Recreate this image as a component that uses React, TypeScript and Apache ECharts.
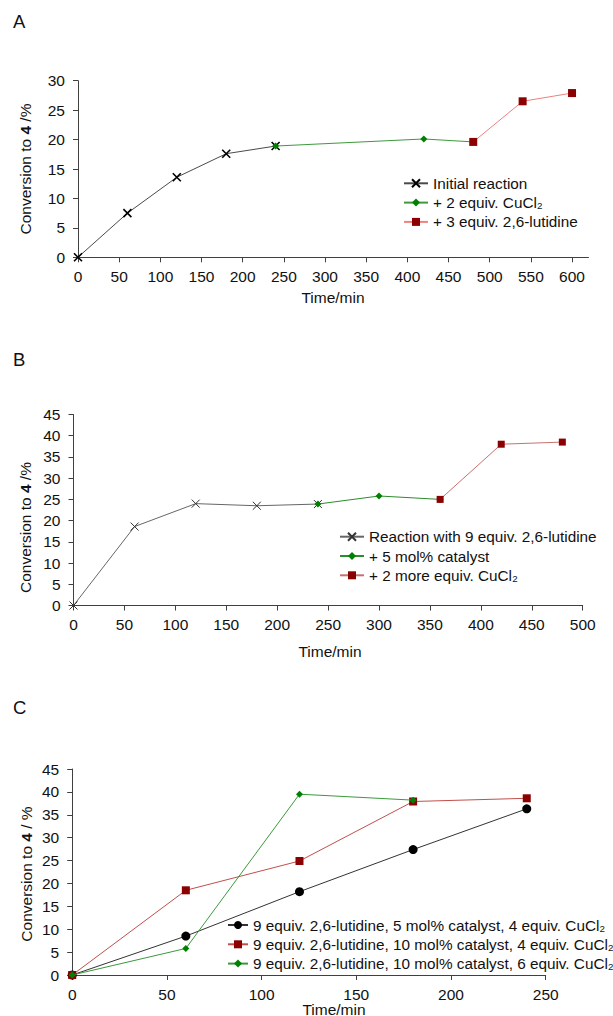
import React, { useEffect, useRef } from "react";
import * as echarts from "echarts";

// ---------- Data ----------
// Panel A
const timesA1 = [0, 60, 120, 180, 240];
const valsA1 = [0, 7.5, 13.6, 17.6, 18.9];
const timesA2 = [240, 420, 480];
const valsA2 = [18.9, 20.1, 19.6];
const timesA3 = [480, 540, 600];
const valsA3 = [19.6, 26.5, 27.9];
const namesA = ["Initial reaction", "+ 2 equiv. CuCl\u2082", "+ 3 equiv. 2,6-lutidine"];
const xTicksA = [0, 50, 100, 150, 200, 250, 300, 350, 400, 450, 500, 550, 600];

// Panel B
const timesB1 = [0, 60, 120, 180, 240];
const valsB1 = [0, 18.6, 24.0, 23.5, 23.9];
const timesB2 = [240, 300, 360];
const valsB2 = [23.9, 25.8, 25.0];
const timesB3 = [360, 420, 480];
const valsB3 = [25.0, 38.0, 38.5];
const namesB = ["Reaction with 9 equiv. 2,6-lutidine", "+ 5 mol% catalyst", "+ 2 more equiv. CuCl\u2082"];

// Panel C
const timesC = [0, 60, 120, 180, 240];
const valsC1 = [0, 8.5, 18.2, 27.4, 36.3];
const valsC2 = [0, 18.5, 24.9, 37.9, 38.6];
const timesC3 = [0, 60, 120, 180];
const valsC3 = [0, 5.8, 39.5, 38.2];
const namesC = [
  "9 equiv. 2,6-lutidine, 5 mol% catalyst, 4 equiv. CuCl\u2082",
  "9 equiv. 2,6-lutidine, 10 mol% catalyst, 4 equiv. CuCl\u2082",
  "9 equiv. 2,6-lutidine, 10 mol% catalyst, 6 equiv. CuCl\u2082",
];

const panelLetters = ["A", "B", "C"];
const yTitleA = "{a|Conversion to }{b|4}{a| /%}";
const yTitleC = "{a|Conversion to }{b|4}{a| / %}";
const xTitle = "Time/min";

// ---------- Style ----------
const FONT = "'Liberation Sans', Arial, 'DejaVu Sans', sans-serif";
const FS = 15.5;
const LFS = 15.3;
const AXIS_COLOR = "#404040";
const TEXT_COLOR = "#111";
const X_PATH = "path://M0,0L10,10M10,0L0,10";

const pairs = (xs: number[], ys: number[]) => xs.map((x, i) => [x, ys[i]]);

function xAxisCfg(gridIndex: number, max: number, extra: any = {}) {
  return {
    type: "value",
    gridIndex,
    min: 0,
    max,
    interval: 50,
    axisLine: { show: true, onZero: false, lineStyle: { color: AXIS_COLOR, width: 1 } },
    axisTick: { show: true, length: 5, inside: false, lineStyle: { color: AXIS_COLOR }, ...(extra.axisTick || {}) },
    axisLabel: { fontSize: FS, fontFamily: FONT, color: TEXT_COLOR, margin: 11, ...(extra.axisLabel || {}) },
    splitLine: { show: false },
  };
}

function yAxisCfg(gridIndex: number, max: number) {
  return {
    type: "value",
    gridIndex,
    min: 0,
    max,
    interval: 5,
    axisLine: { show: true, lineStyle: { color: AXIS_COLOR, width: 1 } },
    axisTick: { show: true, length: 5, inside: false, lineStyle: { color: AXIS_COLOR } },
    axisLabel: { fontSize: FS, fontFamily: FONT, color: TEXT_COLOR, margin: 13 },
    splitLine: { show: false },
  };
}

function lineSeries(name: string, idx: number, data: number[][], lineColor: string, symbol: string, symbolSize: number, itemStyle: any, z = 2) {
  return {
    type: "line",
    name,
    xAxisIndex: idx,
    yAxisIndex: idx,
    data,
    symbol,
    symbolSize,
    showAllSymbol: true,
    clip: false,
    z,
    lineStyle: { color: lineColor, width: 1 },
    itemStyle,
    emphasis: { disabled: true },
  };
}

function legendCfg(names: string[], left: number, top: number, itemWidth: number) {
  return {
    data: names,
    orient: "vertical",
    left,
    top,
    padding: 0,
    itemWidth,
    itemHeight: 10,
    itemGap: 3.3,
    selectedMode: false,
    textStyle: { fontSize: LFS, fontFamily: FONT, color: TEXT_COLOR, lineHeight: 16 },
  };
}

function richStyle() {
  return {
    a: { fontSize: FS, fontFamily: FONT, fill: TEXT_COLOR },
    b: { fontSize: FS, fontFamily: FONT, fill: TEXT_COLOR, fontWeight: "bold" },
  };
}

export default function App() {
  const ref = useRef<HTMLDivElement>(null);

  useEffect(() => {
    if (!ref.current) return;
    const chart = echarts.init(ref.current, undefined, { renderer: "svg" });

    const option: any = {
      animation: false,
      backgroundColor: "#ffffff",
      textStyle: { fontFamily: FONT },
      grid: [
        { left: 78, top: 80.7, width: 510.5, height: 176.6 },
        { left: 73.5, top: 414.5, width: 509.2, height: 191 },
        { left: 72.2, top: 769, width: 473.5, height: 206 },
      ],
      xAxis: [
        xAxisCfg(0, 620, {
          axisTick: { customValues: xTicksA },
          axisLabel: { customValues: xTicksA, formatter: (v: number) => (v > 600 ? "" : String(v)) },
        }),
        xAxisCfg(1, 500),
        xAxisCfg(2, 250),
      ],
      yAxis: [yAxisCfg(0, 30), yAxisCfg(1, 45), yAxisCfg(2, 45)],
      legend: [
        legendCfg(namesA, 403, 175.3, 24),
        legendCfg(namesB, 339, 528.7, 24),
        legendCfg(namesC, 227, 917, 20),
      ],
      series: [
        // Panel A
        lineSeries(namesA[0], 0, pairs(timesA1, valsA1), "#4a4a4a", X_PATH, 8, { color: "#000", borderColor: "#000", borderWidth: 1.6 }),
        lineSeries(namesA[1], 0, pairs(timesA2, valsA2), "#3d9a3d", "diamond", 7, { color: "#008000" }, 3),
        lineSeries(namesA[2], 0, pairs(timesA3, valsA3), "#f08080", "rect", 8, { color: "#8b0000" }, 4),
        // Panel B
        lineSeries(namesB[0], 1, pairs(timesB1, valsB1), "#666666", X_PATH, 8, { color: "#333", borderColor: "#333", borderWidth: 1 }),
        lineSeries(namesB[1], 1, pairs(timesB2, valsB2), "#2e8b2e", "diamond", 7, { color: "#008000" }, 3),
        lineSeries(namesB[2], 1, pairs(timesB3, valsB3), "#c87070", "rect", 7, { color: "#8b0000" }, 4),
        // Panel C
        lineSeries(namesC[0], 2, pairs(timesC, valsC1), "#333333", "circle", 9, { color: "#000" }),
        lineSeries(namesC[1], 2, pairs(timesC, valsC2), "#c0504d", "rect", 8, { color: "#8b0000" }, 3),
        lineSeries(namesC[2], 2, pairs(timesC3, valsC3), "#3a9a3a", "diamond", 7, { color: "#008000" }, 4),
      ],
      graphic: [
        // panel letters
        { type: "text", x: 13, y: 21.7, style: { text: panelLetters[0], fontSize: 18.5, fontFamily: FONT, fill: TEXT_COLOR, align: "left", verticalAlign: "middle" } },
        { type: "text", x: 13, y: 359, style: { text: panelLetters[1], fontSize: 18.5, fontFamily: FONT, fill: TEXT_COLOR, align: "left", verticalAlign: "middle" } },
        { type: "text", x: 13, y: 707, style: { text: panelLetters[2], fontSize: 18.5, fontFamily: FONT, fill: TEXT_COLOR, align: "left", verticalAlign: "middle" } },
        // y titles
        { type: "text", x: 25, y: 169, rotation: Math.PI / 2, style: { text: yTitleA, rich: richStyle(), align: "center", verticalAlign: "middle" } },
        { type: "text", x: 25, y: 527.5, rotation: Math.PI / 2, style: { text: yTitleA, rich: richStyle(), align: "center", verticalAlign: "middle" } },
        { type: "text", x: 26.7, y: 874, rotation: Math.PI / 2, style: { text: yTitleC, rich: richStyle(), align: "center", verticalAlign: "middle" } },
        // x titles
        { type: "text", x: 333, y: 297.7, style: { text: xTitle, fontSize: FS, fontFamily: FONT, fill: TEXT_COLOR, align: "center", verticalAlign: "middle" } },
        { type: "text", x: 330, y: 651, style: { text: xTitle, fontSize: FS, fontFamily: FONT, fill: TEXT_COLOR, align: "center", verticalAlign: "middle" } },
        { type: "text", x: 334, y: 1009, style: { text: xTitle, fontSize: FS, fontFamily: FONT, fill: TEXT_COLOR, align: "center", verticalAlign: "middle" } },
      ],
    };

    chart.setOption(option);
    return () => chart.dispose();
  }, []);

  return (
    <div
      ref={ref}
      style={{ position: "absolute", left: 0, top: 0, width: 613, height: 1016, background: "#fff" }}
    />
  );
}
